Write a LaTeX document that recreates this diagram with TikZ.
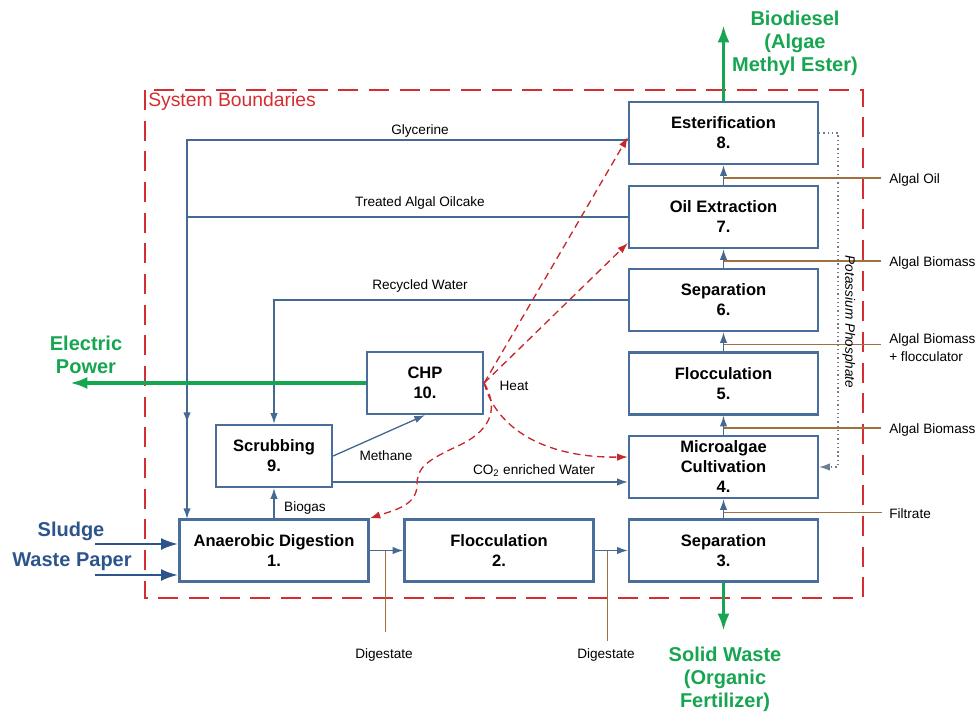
\documentclass[tikz,border=0pt]{standalone}
\usepackage{fontspec}
\setmainfont{Liberation Sans}
\usetikzlibrary{arrows.meta,calc}
\definecolor{boxblue}{RGB}{74,110,155}
\definecolor{lineblue}{RGB}{70,105,145}
\definecolor{heatred}{RGB}{200,40,45}
\definecolor{bred}{RGB}{212,45,50}
\definecolor{brownl}{RGB}{160,112,62}
\definecolor{greenc}{RGB}{22,165,80}
\definecolor{sblue}{RGB}{45,85,140}
\definecolor{dotgrey}{RGB}{110,125,145}
\begin{document}
\begin{tikzpicture}[x=0.75pt,y=-0.75pt,
  procbox/.style={draw=boxblue, line width=1.7pt, fill=white, minimum width=141.75pt,
    minimum height=46.5pt, inner sep=0pt, align=center,
    font=\fontsize{12.4}{15}\selectfont\bfseries},
  smallbox/.style={procbox, minimum width=87pt},
  flow/.style={draw=lineblue, line width=1pt},
  flowarr/.style={flow, -{Latex[length=8pt,width=5.5pt]}},
  heat/.style={draw=heatred, line width=1pt, dash pattern=on 5.5pt off 3.5pt,
    -{Latex[length=8pt,width=5.5pt]}},
  feed/.style={draw=brownl, line width=1pt},
  lbl/.style={font=\fontsize{10.2}{12}\selectfont, inner sep=0pt},
  biglbl/.style={font=\fontsize{15}{17.25}\selectfont\bfseries, align=center, inner sep=0pt},
  bigarr/.style={line width=2.5pt, -{Latex[length=13pt,width=9pt]}}
]
\useasboundingbox (0,0) rectangle (977,713);

% system boundary
\draw[bred, line width=2pt, dash pattern=on 15pt off 8pt] (145,90) rectangle (863,598);
\node[anchor=west, inner sep=0pt, text=bred, font=\fontsize{14.5}{17}\selectfont] (sysb) at (148,102) {System Boundaries};

% boxes
\node[procbox] (b1) at (274,550.5) {Anaerobic Digestion\\1.};
\node[procbox] (b2) at (499,550.5) {Flocculation\\2.};
\node[procbox] (b3) at (723.5,550.5) {Separation\\3.};
\node[procbox] (b4) at (723.5,467) {Microalgae\\Cultivation\\4.};
\node[procbox] (b5) at (723.5,383.5) {Flocculation\\5.};
\node[procbox] (b6) at (723.5,300) {Separation\\6.};
\node[procbox] (b7) at (723.5,217) {Oil Extraction\\7.};
\node[procbox] (b8) at (723.5,133) {Esterification\\8.};
\node[smallbox] (chp) at (425,383) {CHP\\10.};
\node[smallbox] (scr) at (274,456) {Scrubbing\\9.};

% main chain
\draw[flowarr] (b1.east) -- (b2.west);
\draw[flowarr] (b2.east) -- (b3.west);
\draw[flowarr] (b3.north) -- (b4.south);
\draw[flowarr] (b4.north) -- (b5.south);
\draw[flowarr] (b5.north) -- (b6.south);
\draw[flowarr] (b6.north) -- (b7.south);
\draw[flowarr] (b7.north) -- (b8.south);

% feeders (brown)
\coordinate (f1) at ($(b3.north)+(0,-6)$);
\coordinate (f2) at ($(b4.north)+(0,-7)$);
\coordinate (f3) at ($(b5.north)+(0,-7)$);
\coordinate (f4) at ($(b6.north)+(0,-7)$);
\coordinate (f5) at ($(b7.north)+(0,-7)$);
\draw[feed] (f1) -- ++(158,0);
\draw[feed] (f2) -- ++(157,0);
\draw[feed] (f3) -- ++(157,0);
\draw[feed] (f4) -- ++(157,0);
\draw[feed] (f5) -- ++(157,0);
\node[lbl, anchor=west] (lfil) at (889,514) {Filtrate};
\node[lbl, anchor=west] (lab1) at (889,430) {Algal Biomass};
\node[lbl, anchor=west, align=left, font=\fontsize{10.2}{13.3}\selectfont] (lab2) at (889,348) {Algal Biomass\\+ flocculator};
\node[lbl, anchor=west] (lab3) at (889,263) {Algal Biomass};
\node[lbl, anchor=west] (loil) at (889,180) {Algal Oil};

% digestate
\coordinate (d1) at ($(b1.east)+(16,0)$);
\coordinate (d2) at ($(b2.east)+(13,0)$);
\draw[feed] (d1) -- ++(0,81);
\draw[feed] (d2) -- ++(0,90);
\node[lbl] (dg1) at (384,655) {Digestate};
\node[lbl] (dg2) at (606,655) {Digestate};

% recycle lines
\coordinate (g1) at (187,140);
\coordinate (gm) at (187,423);
\coordinate (g2) at (187,519);
\draw[flow] ($(b8.west)+(0,7)$) -- (g1) -- (gm);
\draw[flowarr] (g1) -- (gm);
\draw[flowarr] (gm) -- (g2);
\draw[flow] (b7.west) -- (187,217);
\draw[flowarr] (b6.west) -- (scr.north |- b6.west) -- (scr.north);
\node[lbl] (lgly) at (420,131) {Glycerine};
\node[lbl] (ltoc) at (420,203) {Treated Algal Oilcake};
\node[lbl] (lrw) at (420,286) {Recycled Water};

% biogas, methane, co2
\draw[flowarr] (b1.north) -- (scr.south);
\node[lbl] (lbio) at (305,508) {Biogas};
\draw[flowarr] (scr.east) -- (chp.south);
\node[lbl] (lmet) at (386,456) {Methane};
\draw[flowarr] ($(scr.east)+(0,26)$) -- ($(b4.west)+(0,15)$);
\node[lbl] (lco2) at (534,471) {CO\textsubscript{2} enriched Water};

% potassium phosphate
\draw[dotgrey, line width=0.9pt, dash pattern=on 1pt off 2.2pt, -{Latex[length=8pt,width=5.5pt]}]
  (b8.east) -- (838,133) -- (838,467) -- (b4.east);
\node[lbl, rotate=-90, font=\fontsize{10.2}{12}\selectfont\itshape] (lkp) at (849,322) {Potassium Phosphate};

% heat
\draw[heat] (chp.east) -- ($(b8.west)+(0,4)$);
\draw[heat] (chp.east) -- ($(b7.west)+(0,26)$);
\draw[heat] (chp.east) .. controls (495,425) and (540,458) .. ($(b4.west)+(0,-10)$);
\draw[heat] (chp.east) .. controls (497,405) and (495,428) .. (460,445)
  .. controls (425,461) and (417,468) .. (417,485)
  .. controls (417,505) and (395,510) .. (b1.north east);
\node[lbl] (lheat) at (514,386) {Heat};

% outputs
\node[biglbl, text=greenc] (bio) at (795,43) {Biodiesel\\(Algae\\Methyl Ester)};
\coordinate (biotip) at (723.5,25);
\draw[bigarr, greenc] (b8.north) -- (biotip);
\node[biglbl, text=greenc] (sw) at (725,679) {Solid Waste\\(Organic\\Fertilizer)};
\coordinate (swtip) at (723.5,631);
\draw[bigarr, greenc] (b3.south) -- (swtip);
\node[biglbl, text=greenc] (ep) at (86,354.5) {Electric\\Power};
\coordinate (eptip) at (70,383);
\draw[bigarr, greenc] (chp.west) -- (eptip);

% inputs
\node[biglbl, text=sblue] (sl) at (71,531) {Sludge};
\node[biglbl, text=sblue] (wp) at (72,562) {Waste Paper};
\coordinate (s0) at (95,544);
\coordinate (w0) at (95,575);
\draw[bigarr, sblue, line width=2.2pt] (s0) -- (b1.west |- s0);
\draw[bigarr, sblue, line width=2.2pt] (w0) -- (b1.west |- w0);
\end{tikzpicture}
\end{document}
